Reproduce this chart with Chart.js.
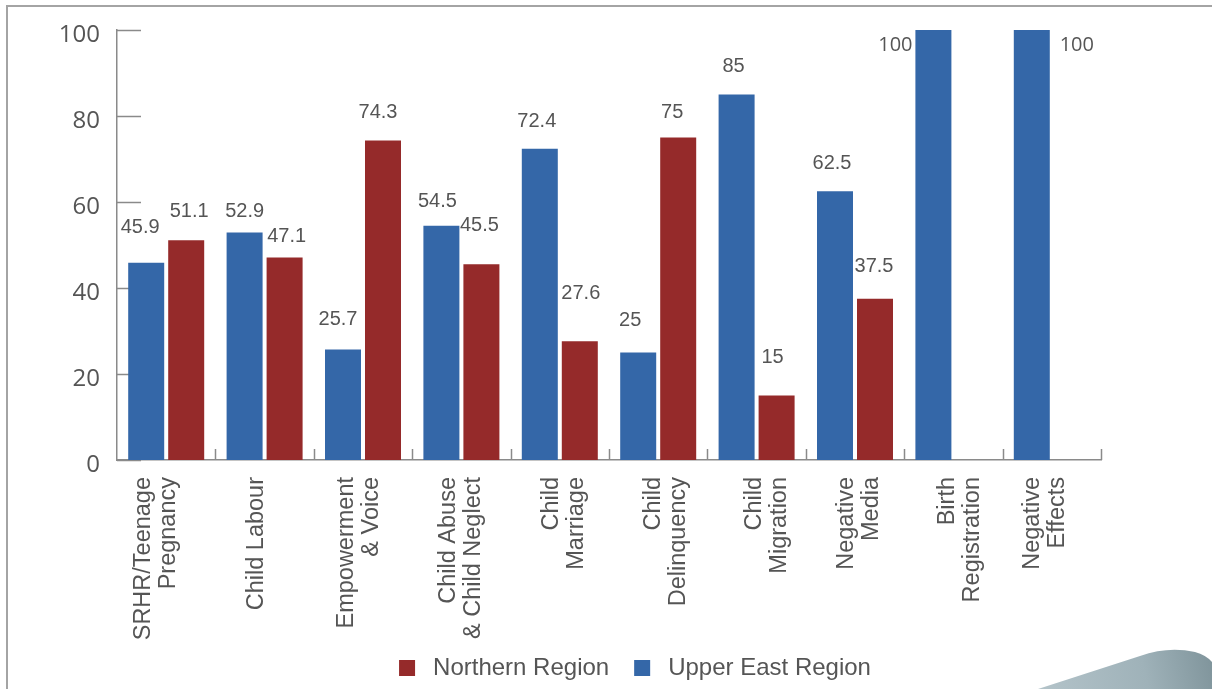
<!DOCTYPE html>
<html>
<head>
<meta charset="utf-8">
<script src="https://cdn.jsdelivr.net/npm/chart.js@4"></script>
<style>
  html, body { margin: 0; padding: 0; background: #fff; }
  #wrap { position: relative; width: 1212px; height: 689px; }
</style>
</head>
<body>
<div id="wrap"><canvas id="chart"></canvas></div>
<script>
(function () {
  'use strict';

  const categories = [
    ['SRHR/Teenage', 'Pregnancy'],
    ['Child Labour'],
    ['Empowerment', '& Voice'],
    ['Child Abuse', '& Child Neglect'],
    ['Child', 'Marriage'],
    ['Child', 'Delinquency'],
    ['Child', 'Migration'],
    ['Negative', 'Media'],
    ['Birth', 'Registration'],
    ['Negative', 'Effects']
  ];
  const upperEast = [45.9, 52.9, 25.7, 54.5, 72.4, 25, 85, 62.5, 100, 100];
  const northern = [51.1, 47.1, 74.3, 45.5, 27.6, 75, 15, 37.5, null, null];
  const yTicks = [0, 20, 40, 60, 80, 100];

  // hand-placed value labels: [dx, dy] from the top centre of each bar
  const ueNudge = [[-6, -35], [0, -21], [-5, -30], [-4, -24], [-3, -27], [-8, -32], [-3, -28], [-3, -28], [-38, 15], [45, 15]];
  const nrNudge = [[3, -29], [2, -21], [-5, -28], [-2, -39], [1, -48], [-6, -25], [-4, -38], [-1, -32]];
  // sideways shift of each category label
  const catNudge = [-10, -8, -4, 0, 4, 8, 10, 4, 7, -7];

  const BLUE = '#3467a8';
  const RED = '#952a2a';
  const TEXT = '#555555';
  const AXIS = '#8a8a8a';
  const SANS = '"Liberation Sans", Arial, Helvetica, sans-serif';

  const decor = {
    id: 'decor',
    beforeDraw(chart) {
      const ctx = chart.ctx;
      ctx.save();
      // page frame
      ctx.strokeStyle = '#a4a4a4';
      ctx.lineWidth = 2;
      ctx.beginPath();
      ctx.moveTo(7, 689);
      ctx.lineTo(7, 6);
      ctx.lineTo(1212, 6);
      ctx.stroke();
      // corner swoosh
      const g = ctx.createLinearGradient(1040, 689, 1212, 650);
      g.addColorStop(0, '#b3c3c9');
      g.addColorStop(0.6, '#9fb2b9');
      g.addColorStop(1, '#7f949b');
      ctx.fillStyle = g;
      ctx.beginPath();
      ctx.moveTo(1038, 689);
      ctx.lineTo(1140, 656);
      ctx.quadraticCurveTo(1168, 646, 1195, 652);
      ctx.quadraticCurveTo(1206, 655, 1212, 662);
      ctx.lineTo(1212, 689);
      ctx.closePath();
      ctx.fill();
      ctx.restore();
    },
    beforeDatasetsDraw(chart) {
      const { ctx, chartArea } = chart;
      const x = chart.scales.x, y = chart.scales.y;
      ctx.save();
      ctx.strokeStyle = AXIS;
      ctx.lineWidth = 1.5;
      ctx.beginPath();
      // inward ticks on the value axis
      y.ticks.forEach(t => {
        const py = Math.round(y.getPixelForValue(t.value)) + 0.5;
        ctx.moveTo(chartArea.left, py);
        ctx.lineTo(chartArea.left + 24, py);
      });
      // category separators
      const n = categories.length;
      for (let k = 1; k <= n; k++) {
        const px = k < n ? (x.getPixelForValue(k - 1) + x.getPixelForValue(k)) / 2 : chartArea.right;
        ctx.moveTo(Math.round(px) + 0.5, chartArea.bottom);
        ctx.lineTo(Math.round(px) + 0.5, chartArea.bottom - 11);
      }
      ctx.stroke();
      ctx.restore();
    },
    afterDraw(chart) {
      const { ctx, chartArea } = chart;
      const x = chart.scales.x, y = chart.scales.y;
      ctx.save();
      ctx.fillStyle = TEXT;

      // value axis labels
      ctx.font = '24px "Open Sans", sans-serif';
      ctx.textAlign = 'right';
      ctx.textBaseline = 'middle';
      y.ticks.forEach(t => {
        ctx.fillText(String(t.value), chartArea.left - 17, y.getPixelForValue(t.value) + 5.5);
      });

      // rotated category labels
      ctx.font = '23.5px ' + SANS;
      const lh = 25;
      categories.forEach((lines, i) => {
        const cx = x.getPixelForValue(i) + catNudge[i];
        lines.forEach((line, j) => {
          ctx.save();
          ctx.translate(cx + (j - (lines.length - 1) / 2) * lh, chartArea.bottom + 17);
          ctx.rotate(-Math.PI / 2);
          ctx.textAlign = 'right';
          ctx.fillText(line, 0, 0);
          ctx.restore();
        });
      });

      // value labels
      ctx.textAlign = 'center';
      ctx.textBaseline = 'middle';
      const nudges = [ueNudge, nrNudge];
      chart.data.datasets.forEach((ds, di) => {
        chart.getDatasetMeta(di).data.forEach((bar, i) => {
          const v = ds.data[i];
          if (v == null) return;
          const off = nudges[di][i];
          ctx.font = v === 100 ? '20px "Open Sans", sans-serif' : '20px ' + SANS;
          ctx.fillText(String(v), bar.x + off[0], bar.y + off[1]);
        });
      });

      // legend, Northern first
      ctx.font = '24px ' + SANS;
      ctx.textAlign = 'left';
      const items = chart.data.datasets.slice().reverse();
      const box = 16, gapText = 18, gapItem = 25;
      const widths = items.map(d => box + gapText + ctx.measureText(d.label).width);
      const total = widths.reduce((a, b) => a + b, 0) + gapItem * (items.length - 1);
      let lx = 635 - total / 2;
      const ly = 668;
      items.forEach((d, i) => {
        ctx.fillStyle = d.backgroundColor;
        ctx.fillRect(lx, ly - 8, box, box);
        ctx.fillStyle = TEXT;
        ctx.fillText(d.label, lx + box + gapText, ly);
        lx += widths[i] + gapItem;
      });
      ctx.restore();
    }
  };

  new Chart(document.getElementById('chart'), {
    type: 'bar',
    data: {
      labels: categories,
      datasets: [
        { label: 'Upper East Region', data: upperEast, backgroundColor: BLUE },
        { label: 'Northern Region', data: northern, backgroundColor: RED }
      ]
    },
    options: {
      responsive: true,
      maintainAspectRatio: false,
      animation: false,
      categoryPercentage: 0.813,
      barPercentage: 0.9,
      layout: { padding: { top: 30, right: 111, bottom: 0, left: 0 } },
      plugins: { legend: { display: false }, tooltip: { enabled: false } },
      scales: {
        x: {
          ticks: { display: false },
          grid: { display: false },
          border: { display: true, color: AXIS, width: 1.5 },
          afterFit(s) { s.height = 229; }
        },
        y: {
          min: 0,
          max: 100,
          afterBuildTicks(s) { s.ticks = yTicks.map(v => ({ value: v })); },
          ticks: { display: false },
          grid: { display: false },
          border: { display: true, color: AXIS, width: 1.5 },
          afterFit(s) { s.width = 117; }
        }
      }
    },
    plugins: [decor]
  });
})();
</script>
</body>
</html>
